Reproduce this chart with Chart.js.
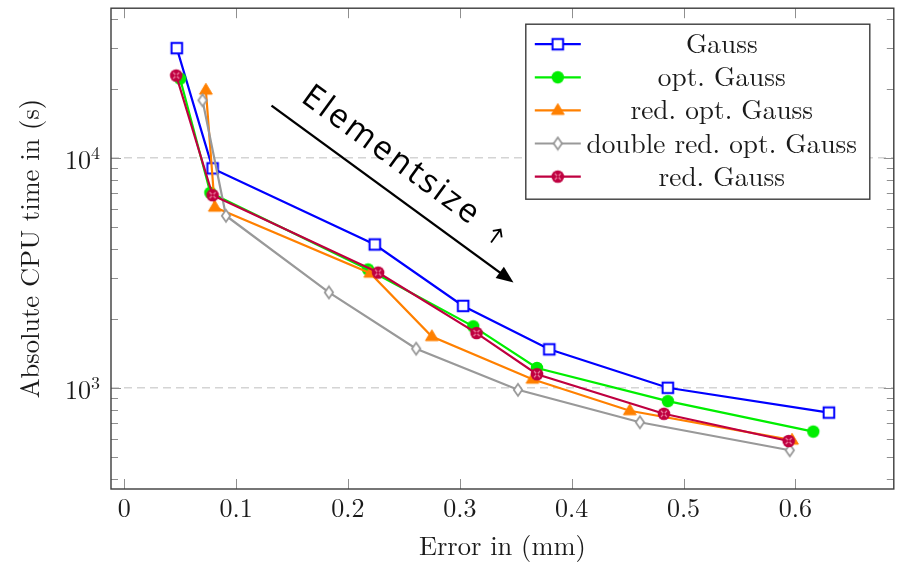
<!DOCTYPE html>
<html><head><meta charset="utf-8">
<script src="https://cdn.jsdelivr.net/npm/chart.js@4.4.0/dist/chart.umd.min.js"></script>
<style>html,body{margin:0;padding:0;background:#fff;}canvas{display:block;}</style>
</head><body>
<canvas id="c" width="902" height="563"></canvas>
<script>
// ---- data ----
const xTickValues = [0, 0.1, 0.2, 0.3, 0.4, 0.5, 0.6];
const xTickLabels = ['0', '0.1', '0.2', '0.3', '0.4', '0.5', '0.6'];
const yTickValues = [1000, 10000];
const yTickBase = '10';
const yTickExponents = ['3', '4'];
const seriesNames = ['Gauss', 'opt. Gauss', 'red. opt. Gauss', 'double red. opt. Gauss', 'red. Gauss'];

const errGauss = [0.047, 0.079, 0.224, 0.303, 0.380, 0.486, 0.630];
const cpuGauss = [30000, 9000, 4200, 2270, 1470, 1000, 780];
const errOptGauss = [0.050, 0.077, 0.218, 0.312, 0.369, 0.486, 0.616];
const cpuOptGauss = [22100, 7050, 3270, 1850, 1220, 875, 645];
const errRedOptGauss = [0.073, 0.081, 0.220, 0.275, 0.365, 0.452, 0.597];
const cpuRedOptGauss = [19700, 6100, 3150, 1670, 1090, 795, 592];
const errDblRedOptGauss = [0.070, 0.091, 0.183, 0.261, 0.352, 0.461, 0.595];
const cpuDblRedOptGauss = [17800, 5600, 2600, 1480, 980, 708, 535];
const errRedGauss = [0.0465, 0.079, 0.227, 0.315, 0.369, 0.4825, 0.594];
const cpuRedGauss = [22800, 6880, 3170, 1730, 1146, 771, 587];

const xTitle = 'Error in (mm)';
const yTitle = 'Absolute CPU time in (s)';
const annotationText = 'Elementsize';
const annotationArrowFrom = [0.1317, 16870];
const annotationArrowTo = [0.348, 2872];

// ---- styles ----
const colors = ['#0000ff', '#00ee00', '#ff8000', '#999999', '#bf0040'];
const markerKinds = ['square', 'circle', 'triangle', 'diamond', 'otimes'];

function makeMarker(kind, color) {
  const c = document.createElement('canvas');
  c.width = 16; c.height = 16;
  const g = c.getContext('2d');
  const m = 8;
  g.lineJoin = 'miter';
  if (kind === 'square') {
    g.fillStyle = '#fff'; g.strokeStyle = color; g.lineWidth = 2;
    g.beginPath(); g.rect(m - 5.3, m - 5.3, 10.6, 10.6); g.fill(); g.stroke();
  } else if (kind === 'circle') {
    g.fillStyle = color; g.beginPath(); g.arc(m, m, 6.2, 0, Math.PI * 2); g.fill();
  } else if (kind === 'triangle') {
    g.fillStyle = color; g.strokeStyle = color; g.lineWidth = 1;
    g.beginPath(); g.moveTo(m, m - 6.8); g.lineTo(m + 6.4, m + 4); g.lineTo(m - 6.4, m + 4); g.closePath(); g.fill(); g.stroke();
  } else if (kind === 'diamond') {
    g.fillStyle = '#fff'; g.strokeStyle = color; g.lineWidth = 1.8;
    g.beginPath(); g.moveTo(m, m - 6); g.lineTo(m + 4.2, m); g.lineTo(m, m + 6); g.lineTo(m - 4.2, m); g.closePath(); g.fill(); g.stroke();
  } else if (kind === 'otimes') {
    g.fillStyle = color; g.beginPath(); g.arc(m, m, 6.3, 0, Math.PI * 2); g.fill();
    g.strokeStyle = '#ee8aa8'; g.lineWidth = 1.1;
    const d = 3;
    g.beginPath(); g.moveTo(m - d, m - d); g.lineTo(m + d, m + d); g.moveTo(m + d, m - d); g.lineTo(m - d, m + d); g.stroke();
    g.fillStyle = color; g.beginPath(); g.arc(m, m, 1.2, 0, Math.PI * 2); g.fill();
  }
  return c;
}
const markers = markerKinds.map((k, i) => makeMarker(k, colors[i]));

const seriesErr = [errGauss, errOptGauss, errRedOptGauss, errDblRedOptGauss, errRedGauss];
const seriesCpu = [cpuGauss, cpuOptGauss, cpuRedOptGauss, cpuDblRedOptGauss, cpuRedGauss];

const datasets = seriesNames.map((name, i) => ({
  label: name,
  data: seriesErr[i].map((x, j) => ({ x: x, y: seriesCpu[i][j] })),
  borderColor: colors[i],
  backgroundColor: colors[i],
  borderWidth: 2.2,
  pointStyle: markers[i],
  pointRadius: 6,
  tension: 0,
  fill: false,
  order: 10 - i
}));

const SERIF = '"Latin Modern Roman", "Liberation Serif", serif';

const decor = {
  id: 'decor',
  beforeDatasetsDraw(chart) {
    const { ctx, chartArea: a, scales: { y } } = chart;
    ctx.save();
    ctx.strokeStyle = '#d4d4d4'; ctx.lineWidth = 1.5; ctx.setLineDash([8, 5]);
    yTickValues.forEach(v => {
      const py = y.getPixelForValue(v);
      ctx.beginPath(); ctx.moveTo(a.left, py); ctx.lineTo(a.right, py); ctx.stroke();
    });
    ctx.restore();
  },
  afterDraw(chart) {
    const { ctx, chartArea: a, scales: { x, y } } = chart;
    ctx.save();
    // inward ticks
    ctx.strokeStyle = '#8f8f8f'; ctx.lineWidth = 1;
    ctx.beginPath();
    xTickValues.forEach(v => {
      const px = Math.round(x.getPixelForValue(v)) + 0.5;
      ctx.moveTo(px, a.bottom); ctx.lineTo(px, a.bottom - 10);
      ctx.moveTo(px, a.top); ctx.lineTo(px, a.top + 10);
    });
    for (let dec = 100; dec <= 10000; dec *= 10) {
      for (let k = 1; k <= 9; k++) {
        const v = k * dec;
        if (v < y.min || v > y.max) continue;
        const py = Math.round(y.getPixelForValue(v)) + 0.5;
        const len = k === 1 ? 10 : 7;
        ctx.moveTo(a.left, py); ctx.lineTo(a.left + len, py);
        ctx.moveTo(a.right, py); ctx.lineTo(a.right - len, py);
      }
    }
    ctx.stroke();
    // frame
    ctx.strokeStyle = '#3c3c3c'; ctx.lineWidth = 1.4;
    ctx.strokeRect(a.left, a.top, a.right - a.left, a.bottom - a.top);

    // x tick labels
    ctx.fillStyle = '#1a1a1a';
    ctx.font = '26px ' + SERIF;
    ctx.textAlign = 'center'; ctx.textBaseline = 'alphabetic';
    xTickValues.forEach((v, i) => {
      ctx.fillText(xTickLabels[i], x.getPixelForValue(v), 516.5);
    });

    // y tick labels with superscript
    yTickValues.forEach((v, i) => {
      const py = y.getPixelForValue(v);
      ctx.font = '18px ' + SERIF;
      const supW = ctx.measureText(yTickExponents[i]).width;
      const right = a.left - 11;
      ctx.textAlign = 'right';
      ctx.fillText(yTickExponents[i], right, py + 1);
      ctx.font = '26px ' + SERIF;
      ctx.fillText(yTickBase, right - supW, py + 11);
    });

    // axis titles
    ctx.font = '26.5px ' + SERIF;
    ctx.textAlign = 'center'; ctx.textBaseline = 'alphabetic';
    ctx.fillText(xTitle, (a.left + a.right) / 2, 555);
    ctx.save();
    ctx.translate(39, (a.top + a.bottom) / 2);
    ctx.rotate(-Math.PI / 2);
    ctx.fillText(yTitle, 0, 0);
    ctx.restore();

    // legend
    const lw = 344, lh = 175;
    const lx = a.right - 24 - lw, ly = a.top + 16;
    ctx.fillStyle = '#fff';
    ctx.fillRect(lx, ly, lw, lh);
    ctx.strokeStyle = '#3c3c3c'; ctx.lineWidth = 1.4;
    ctx.strokeRect(lx, ly, lw, lh);
    chart.data.datasets.forEach((ds, i) => {
      const ry = ly + 20 + i * 33.1;
      ctx.strokeStyle = ds.borderColor; ctx.lineWidth = 2.2;
      ctx.beginPath(); ctx.moveTo(lx + 9, ry); ctx.lineTo(lx + 55, ry); ctx.stroke();
      const mk = ds.pointStyle;
      ctx.drawImage(mk, lx + 32 - mk.width / 2, ry - mk.height / 2);
      ctx.fillStyle = '#1a1a1a';
      ctx.font = '27.3px ' + SERIF;
      ctx.textAlign = 'center'; ctx.textBaseline = 'alphabetic';
      ctx.fillText(ds.label, lx + 196, ry + 9);
    });

    // annotation arrow + text
    const p0x = x.getPixelForValue(annotationArrowFrom[0]), p0y = y.getPixelForValue(annotationArrowFrom[1]);
    const p1x = x.getPixelForValue(annotationArrowTo[0]), p1y = y.getPixelForValue(annotationArrowTo[1]);
    const ang = Math.atan2(p1y - p0y, p1x - p0x);
    const len = Math.hypot(p1x - p0x, p1y - p0y);
    ctx.save();
    ctx.translate(p0x, p0y); ctx.rotate(ang);
    ctx.strokeStyle = '#000'; ctx.fillStyle = '#000'; ctx.lineWidth = 2.4;
    ctx.beginPath(); ctx.moveTo(0, 0); ctx.lineTo(len - 12, 0); ctx.stroke();
    ctx.beginPath(); ctx.moveTo(len, 0); ctx.lineTo(len - 17, -7); ctx.lineTo(len - 17, 7); ctx.closePath(); ctx.fill();
    ctx.font = '33px "Open Sans", "Noto Sans", sans-serif';
    ctx.letterSpacing = '2.6px';
    ctx.textAlign = 'left'; ctx.textBaseline = 'alphabetic';
    ctx.fillText(annotationText, 20, -20.6);
    ctx.letterSpacing = '0px';
    // small up arrow
    ctx.lineWidth = 1.8;
    const ax = 258, ay = -27;
    ctx.beginPath();
    ctx.moveTo(ax, ay + 8); ctx.lineTo(ax, ay - 8);
    ctx.moveTo(ax - 5.5, ay - 2.5); ctx.lineTo(ax, ay - 8); ctx.lineTo(ax + 5.5, ay - 2.5);
    ctx.stroke();
    ctx.restore();

    ctx.restore();
  }
};

new Chart(document.getElementById('c'), {
  type: 'line',
  data: { datasets: datasets },
  options: {
    responsive: false,
    animation: false,
    events: [],
    layout: { padding: { left: 0, top: 4, right: 2, bottom: 0 } },
    plugins: { legend: { display: false }, tooltip: { enabled: false } },
    scales: {
      x: {
        type: 'linear', min: -0.0118, max: 0.688,
        grid: { display: false, drawTicks: false },
        border: { display: false },
        ticks: { display: false },
        afterBuildTicks: s => { s.ticks = xTickValues.map(v => ({ value: v })); },
        afterFit: s => { s.height = 74; }
      },
      y: {
        type: 'logarithmic', min: 363, max: 44750,
        grid: { display: false, drawTicks: false },
        border: { display: false },
        ticks: { display: false },
        afterBuildTicks: s => { s.ticks = yTickValues.map(v => ({ value: v })); },
        afterFit: s => { s.width = 111; }
      }
    }
  },
  plugins: [decor]
});
</script>
</body></html>
